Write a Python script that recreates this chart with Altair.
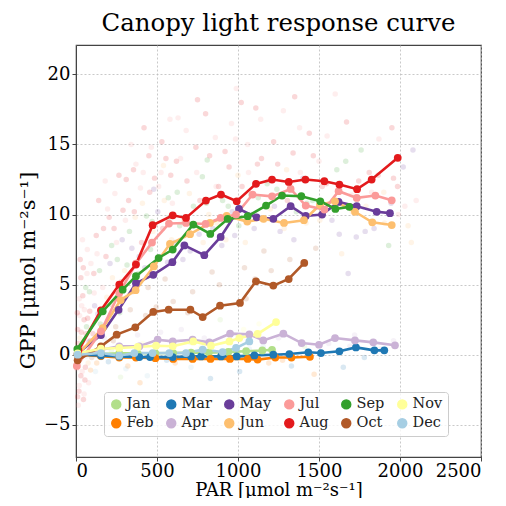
import altair as alt
import pandas as pd

months = ["Jan", "Feb", "Mar", "Apr", "May", "Jun", "Jul", "Aug", "Sep", "Oct", "Nov", "Dec"]
month_colors = ["#b2df8a", "#ff7f00", "#1f78b4", "#cab2d6", "#6a3d9a", "#fdbf6f",
                "#fb9a99", "#e31a1c", "#33a02c", "#b15928", "#ffff99", "#a6cee3"]

jan_par = [10, 154, 267, 380, 490, 600, 710, 820, 940, 1050, 1150, 1210]
jan_gpp = [0.0, 0.05, 0.1, 0.1, 0.1, 0.12, 0.15, 0.15, 0.2, 0.25, 0.3, 0.35]
feb_par = [10, 154, 267, 370, 490, 600, 720, 830, 950, 1060, 1121, 1230, 1330, 1444]
feb_gpp = [0.0, -0.1, -0.2, -0.2, -0.25, -0.3, -0.3, -0.3, -0.3, -0.3, -0.35, -0.2, -0.2, -0.15]
mar_par = [10, 154, 267, 391, 457, 597, 710, 772, 895, 992, 1101, 1218, 1317, 1434, 1512, 1626, 1728, 1842, 1903]
mar_gpp = [0.0, -0.05, -0.12, -0.17, -0.17, -0.17, -0.12, -0.12, -0.12, -0.12, -0.05, 0.0, 0.05, 0.17, 0.12, 0.24, 0.52, 0.31, 0.31]
apr_par = [10, 154, 267, 391, 504, 597, 720, 823, 951, 1070, 1156, 1280, 1393, 1500, 1599, 1722, 1835, 1969]
apr_gpp = [0.0, 0.36, 0.6, 0.6, 1.07, 0.95, 1.07, 0.88, 1.5, 1.45, 1.02, 1.5, 0.83, 0.71, 1.19, 1.02, 0.88, 0.67]
may_par = [10, 154, 263, 370, 477, 595, 669, 792, 893, 1006, 1115, 1218, 1325, 1418, 1519, 1621, 1733, 1856, 1938]
may_gpp = [0.1, 1.4, 3.2, 5.1, 5.7, 6.6, 7.8, 7.1, 8.4, 10.4, 9.8, 9.7, 10.6, 9.9, 10.0, 10.9, 10.6, 10.2, 10.1]
jun_par = [10, 165, 276, 368, 480, 580, 704, 827, 930, 1057, 1157, 1284, 1407, 1506, 1599, 1722, 1829, 1949]
jun_gpp = [0.0, 1.9, 3.9, 4.6, 6.3, 7.9, 8.6, 9.4, 9.9, 9.5, 9.7, 9.4, 9.6, 10.7, 10.95, 10.2, 9.45, 9.25]
jul_par = [5, 154, 267, 370, 469, 574, 679, 800, 893, 988, 1090, 1210, 1325, 1418, 1533, 1621, 1733, 1848, 1949]
jul_gpp = [-0.8, 1.67, 4.4, 6.5, 8.0, 9.36, 9.4, 9.33, 9.76, 10.0, 11.43, 11.3, 11.83, 10.64, 10.36, 11.67, 11.19, 11.36, 11.02]
aug_par = [15, 154, 267, 370, 473, 597, 679, 802, 895, 992, 1111, 1210, 1313, 1416, 1533, 1626, 1735, 1825, 1986]
aug_gpp = [0.3, 3.17, 5.0, 6.43, 9.24, 9.95, 9.76, 11.0, 11.43, 10.95, 12.19, 12.5, 12.33, 12.5, 12.38, 12.14, 11.81, 12.5, 14.05]
sep_par = [8, 165, 288, 370, 510, 597, 724, 829, 936, 1060, 1173, 1272, 1391, 1508, 1601, 1687]
sep_gpp = [0.4, 3.1, 4.64, 5.6, 6.9, 7.5, 9.29, 8.62, 9.69, 9.88, 10.64, 11.36, 11.31, 10.95, 10.4, 10.55]
oct_par = [10, 154, 251, 366, 477, 572, 706, 782, 889, 1012, 1111, 1218, 1313, 1409]
oct_gpp = [-0.4, 0.6, 1.43, 1.95, 3.05, 3.21, 3.21, 2.69, 3.5, 3.69, 5.24, 4.93, 5.4, 6.55]
nov_par = [10, 154, 267, 381, 494, 597, 724, 833, 947, 1008, 1121, 1235]
nov_gpp = [0.1, 0.43, 0.48, 0.55, 0.64, 0.6, 0.95, 0.64, 0.95, 1.19, 1.48, 2.33]
dec_par = [10, 154, 267, 360, 473, 576, 679, 782, 905, 988, 1070]
dec_gpp = [0.0, 0.12, -0.07, 0.12, 0.12, 0.12, 0.12, 0.36, 0.19, 0.48, 0.95]

# faint background observations (PAR, GPP, month), read roughly from the cloud
sc_par = [10, 20, 30, 15, 40, 25, 50, 35, 60, 45, 70, 55, 80, 65, 20, 30, 75, 10, 50, 5, 40, 85,
          110, 130, 150, 170, 190, 210, 230, 250, 270, 290, 120, 160, 200, 240, 280, 140, 180, 220, 260, 300, 115, 205, 275,
          310, 330, 350, 370, 390, 410, 430, 450, 470, 490, 510, 530, 550, 570, 590, 320, 380, 440, 500, 560, 340, 420, 480, 540, 600, 360, 460, 580, 395,
          620, 640, 660, 680, 700, 720, 740, 760, 780, 800, 820, 840, 860, 880, 900, 650, 710, 770, 830, 890, 630, 750, 810, 870, 690,
          920, 940, 960, 980, 1000, 1020, 1040, 1060, 1080, 1100, 1120, 1140, 1160, 1180, 1200, 950, 1010, 1070, 1130, 1190, 990, 1110, 1050,
          1220, 1240, 1260, 1280, 1300, 1320, 1340, 1360, 1380, 1400, 1420, 1440, 1460, 1480, 1500, 1250, 1330, 1410, 1470, 1350,
          1520, 1550, 1580, 1610, 1640, 1670, 1700, 1730, 1760, 1790, 1560, 1650, 1720, 1600, 1680,
          1810, 1840, 1870, 1900, 1930, 1960, 1990, 2020, 2050, 2080, 1880, 1950, 2100,
          5, 12, 18, 22, 28, 33, 38, 42, 48, 52, 58, 62, 68, 72, 78, 83, 88, 92, 97, 8, 14, 26, 46, 64, 90,
          105, 112, 125, 135, 145, 155, 165, 175, 185, 195, 215, 225, 235, 245, 255, 265, 285, 295, 305, 315, 325, 335, 345, 355, 365, 375, 385, 398, 128, 218, 308,
          405, 415, 425, 435, 445, 455, 465, 475, 485, 495, 505, 515, 525, 535, 545, 555, 565, 575, 585, 595, 610, 625, 645, 665, 685, 705, 725, 745, 765, 785, 412, 522, 612, 702, 792,
          805, 825, 845, 865, 885, 905, 925, 945, 965, 985, 1005, 1025, 1045, 1065, 1085, 1105, 1125, 1145, 1165, 1185, 1205, 1225, 1245, 1265, 1285, 915, 1035, 1155, 1275,
          1305, 1345, 1385, 1425, 1465, 1505, 1545, 1585, 1625, 1665, 1705, 1745, 1785, 1825, 1865, 1905, 1945, 1985, 2030, 2070, 1440, 1690, 1780, 1960]
sc_gpp = [-3.0, -2.2, -1.5, -0.8, 0.5, 1.2, 2.5, 3.5, 4.8, 6.2, 7.5, -1.8, 0.9, 2.0, 4.0, 5.5, -0.6, 1.8, -2.8, 0.2, 8.2, 3.1,
          5.8, 7.2, 2.2, 9.0, 4.1, 6.5, 1.0, 8.0, 3.0, 10.3, -1.2, 0.6, -0.5, 11.5, 5.2, 11.0, 12.4, 7.8, 0.2, 6.0, 3.5, 9.8, -1.6,
          12.5, 8.8, 4.5, 13.6, 7.0, 10.8, 2.8, 14.2, 9.5, 6.3, 12.0, 15.2, 5.4, 11.2, 8.2, -0.8, 1.4, -1.5, 0.8, -0.4, 15.0, 16.2, 11.8, 13.5, 3.8, 10.2, 7.5, 16.8, -2.0,
          13.8, 9.2, 6.8, 16.0, 11.5, 4.5, 14.8, 8.6, 12.7, 17.2, 10.0, 5.9, 15.5, 12.0, 7.8, 1.8, -0.9, 0.5, -1.7, 2.5, 16.9, 18.2, 13.9, 9.4, 3.0,
          14.5, 10.6, 16.5, 8.5, 12.8, 18.0, 6.2, 15.0, 11.4, 9.0, 13.6, 16.8, 7.4, 12.2, 10.4, 1.0, -1.2, 0.4, 2.2, -0.6, 19.0, 17.6, 4.0,
          15.2, 11.8, 8.8, 17.4, 13.2, 6.8, 14.4, 10.2, 16.2, 12.6, 9.4, 15.8, 11.0, 7.6, 13.8, 1.2, -0.8, 0.6, -1.4, 18.4,
          12.0, 15.6, 9.6, 13.2, 7.2, 16.6, 11.4, 8.4, 14.6, 10.6, 0.8, -0.9, 1.4, 18.6, 5.8,
          13.0, 9.0, 15.4, 11.6, 7.8, 12.6, 10.0, 13.4, 9.2, 14.6, 0.4, 16.2, 11.0,
          -1.0, 0.8, -2.6, 2.8, -0.3, 1.6, -1.2, 4.2, 0.1, 3.2, -0.9, 1.5, 5.8, 2.6, -2.0, 4.5, 1.0, 6.5, -0.2, 3.0, -3.6, 6.8, -3.2, -0.1, -1.1,
          1.5, 4.4, 8.5, 2.9, 6.0, -0.2, 4.8, 1.2, 7.0, 10.4, 3.6, 5.5, 9.0, 2.0, 6.8, 12.8, 8.2, 4.0, 9.6, 6.4, 11.0, 3.2, 7.6, 13.2, 9.8, 0.4, 5.8, 11.9, -0.6, 0.3, -1.0,
          8.0, 13.0, 6.2, 9.9, 4.8, 11.6, 14.8, 8.8, 12.6, 3.4, 10.2, 7.0, 13.0, 9.0, 11.0, 14.0, 6.6, 9.8, 12.8, 10.8, 8.0, 11.6, 14.0, 9.6, 12.4, 7.4, 10.6, 13.0, 11.0, 8.0, 0.8, 1.6, -0.6, 0.9, 1.2,
          10.8, 14.2, 9.0, 12.0, 5.0, 11.0, 8.2, 13.4, 10.2, 15.4, 9.2, 12.0, 8.0, 13.0, 10.0, 5.4, 11.2, 14.0, 9.6, 12.4, 6.0, 10.6, 13.6, 11.4, 9.0, 0.2, 1.8, 0.6, -0.4,
          11.0, 8.2, 13.0, 10.8, 14.2, 9.6, 12.2, 11.0, 8.6, 13.8, 10.2, 12.4, 8.8, 11.6, 12.8, 9.4, 10.8, 12.0, 10.6, 8.0, 0.2, 0.6, -0.2, 1.0]
sc_mon = ["Aug", "Jul", "Aug", "Jul", "Aug", "Jun", "Aug", "Jul", "Sep", "Aug", "Jul", "Aug", "May", "Sep", "Jul", "Aug", "Jun", "Aug", "Jul", "Oct", "Jul", "Aug",
          "Aug", "Jul", "Sep", "Aug", "Jun", "May", "Oct", "Jul", "Sep", "Aug", "Dec", "Apr", "Mar", "Jul", "Aug", "Aug", "Jul", "Sep", "Nov", "Jun", "May", "Aug", "Jan",
          "Aug", "Sep", "Oct", "Jul", "May", "Jun", "Oct", "Aug", "Sep", "May", "Jul", "Aug", "Oct", "Sep", "Jun", "Feb", "Apr", "Dec", "Jan", "Mar", "Jul", "Aug", "May", "Jun", "Oct", "Aug", "Sep", "Jul", "Feb",
          "Aug", "Sep", "May", "Jul", "Jun", "Oct", "Aug", "May", "Sep", "Aug", "Jun", "Oct", "Jul", "Aug", "May", "Apr", "Dec", "Nov", "Mar", "Jan", "Jul", "Aug", "Sep", "Jun", "Oct",
          "Aug", "Sep", "Jul", "May", "Jun", "Aug", "Oct", "Jul", "Sep", "May", "Aug", "Jul", "Oct", "Sep", "Jun", "Apr", "Mar", "Dec", "Nov", "Feb", "Jul", "Aug", "Oct",
          "Aug", "Sep", "May", "Jul", "Jun", "Oct", "Aug", "Sep", "Jul", "May", "Jun", "Aug", "Sep", "Oct", "Jul", "Apr", "Mar", "Jan", "Feb", "Aug",
          "Aug", "Jul", "May", "Sep", "Jun", "Aug", "Jul", "May", "Sep", "Jun", "Apr", "Mar", "Apr", "Jul", "May",
          "Aug", "May", "Jul", "Jun", "Sep", "Aug", "Jul", "May", "Jun", "May", "Apr", "Aug", "Jul",
          "Jul", "Aug", "Aug", "Jul", "Jun", "Aug", "Jul", "Aug", "May", "Jul", "Aug", "Aug", "Jul", "Aug", "Jul", "Sep", "Aug", "Jul", "Oct", "Aug", "Jul", "Aug", "Aug", "Dec", "Feb",
          "Aug", "Jul", "Aug", "May", "Sep", "Mar", "Jul", "Apr", "Aug", "Jul", "Oct", "Jun", "Aug", "Oct", "Sep", "Aug", "May", "Jun", "Jul", "Sep", "Aug", "Oct", "May", "Aug", "Jun", "Apr", "Sep", "Jul", "Feb", "Jan", "Dec",
          "Aug", "Jul", "May", "Sep", "Oct", "Aug", "Jul", "Jun", "Aug", "Oct", "May", "Sep", "Jul", "Aug", "Jun", "Aug", "May", "Sep", "Aug", "Jul", "May", "Sep", "Jul", "Jun", "Aug", "May", "Sep", "Jul", "Aug", "Jun", "Nov", "Apr", "Feb", "Jan", "Apr",
          "Sep", "Aug", "May", "Jul", "Oct", "Sep", "Jun", "Aug", "May", "Jul", "Sep", "Aug", "Jun", "Jul", "May", "Oct", "Sep", "Aug", "Jun", "Jul", "Oct", "May", "Aug", "Sep", "Jun", "Mar", "Nov", "Dec", "Feb",
          "Aug", "May", "Jul", "Sep", "Aug", "Jun", "Aug", "Jul", "May", "Sep", "Jun", "Aug", "May", "Jul", "Aug", "Jun", "May", "Aug", "Jul", "Jun", "Mar", "Apr", "Mar", "Apr"]

series = [jan_par, jan_gpp, feb_par, feb_gpp, mar_par, mar_gpp, apr_par, apr_gpp,
          may_par, may_gpp, jun_par, jun_gpp, jul_par, jul_gpp, aug_par, aug_gpp,
          sep_par, sep_gpp, oct_par, oct_gpp, nov_par, nov_gpp, dec_par, dec_gpp]
rows = []
for i, m in enumerate(months):
    par, gpp = series[2 * i], series[2 * i + 1]
    for p, g in zip(par, gpp):
        rows.append({"month": m, "order": i, "PAR": p, "GPP": g})
lines_df = pd.DataFrame(rows)
scatter_df = pd.DataFrame({"PAR": sc_par, "GPP": sc_gpp, "month": sc_mon})

# Vega fills a multi-column legend column by column: Jan/Feb, Mar/Apr, ...
color_scale = alt.Scale(domain=months, range=month_colors)

x_enc = alt.X("PAR:Q", scale=alt.Scale(domain=[0, 2500], nice=False),
              axis=alt.Axis(values=[0, 500, 1000, 1500, 2000, 2500], format="d",
                            title="PAR [μmol m⁻²s⁻¹]"))
y_enc = alt.Y("GPP:Q", scale=alt.Scale(domain=[-7.3, 22.1], nice=False, zero=False),
              axis=alt.Axis(values=[-5, 0, 5, 10, 15, 20], title="GPP [μmol m⁻²s⁻¹]",
                            titleFontSize=21, titleY=225))

legend = alt.Legend(title=None, orient="none", legendX=28, legendY=347, columns=6,
                    symbolType="circle", symbolSize=80, symbolOpacity=1,
                    labelFont="DejaVu Serif", labelFontSize=14.5, labelColor="#222",
                    fillColor="rgba(255,255,255,0.8)", strokeColor="#cccccc",
                    padding=5, cornerRadius=3, rowPadding=3, columnPadding=9,
                    labelOffset=3)

scatter = alt.Chart(scatter_df).mark_circle(size=30, opacity=0.17).encode(
    x=x_enc, y=y_enc, color=alt.Color("month:N", scale=color_scale, legend=legend))

lines = alt.Chart(lines_df).mark_line(
    strokeWidth=2.6, point=alt.OverlayMarkDef(filled=True, size=60, opacity=1)
).encode(
    x=x_enc, y=y_enc,
    color=alt.Color("month:N", scale=color_scale, legend=legend),
    order=alt.Order("order:Q"),
    detail="order:Q",
)

chart = alt.layer(scatter, lines).properties(
    width=405, height=412,
    title=alt.TitleParams("Canopy light response curve", font="DejaVu Serif", fontSize=24.4,
                          fontWeight="normal", color="black", offset=9),
    autosize=alt.AutoSizeParams(type="none"),
    padding={"left": 68, "top": 37, "right": 17, "bottom": 41},
).configure_axis(
    labelFont="DejaVu Serif", labelFontSize=18, labelColor="black",
    titleFont="DejaVu Serif", titleFontSize=20, titleFontWeight="normal", titleColor="black",
    domainColor="#444", tickColor="#444", tickSize=4, labelPadding=2,
    grid=True, gridColor="#bbbbbb", gridDash=[2, 2], gridWidth=0.8,
).configure_axisX(titlePadding=1, titleFontSize=18, labelPadding=1).configure_axisY(titlePadding=5).configure_view(
    stroke="#444", strokeWidth=1.2
)

chart.save("out.html", embed_options={"renderer": "svg", "actions": False})
